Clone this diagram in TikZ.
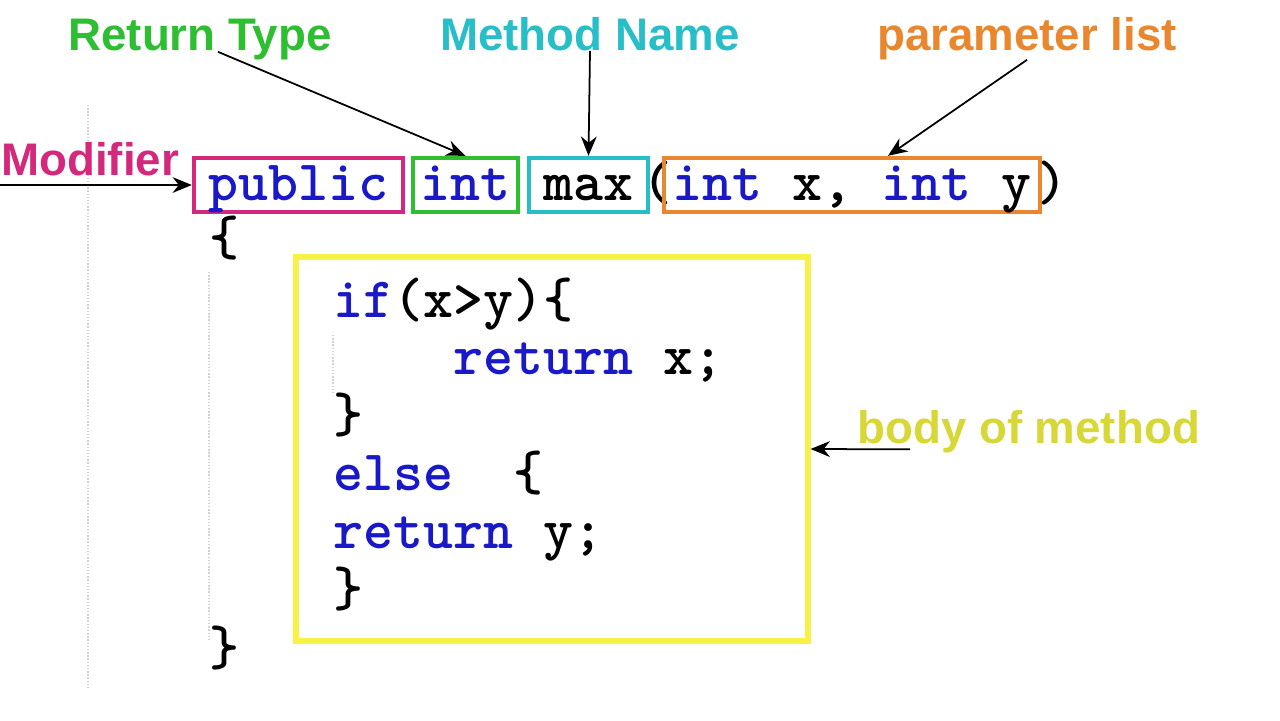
\documentclass[tikz,border=0pt]{standalone}
\usepackage{fontspec}
\usepackage{tikz, xcolor}
\usetikzlibrary{arrows.meta}
\tikzset{>={Stealth[length = 11pt, width = 9pt]}}
\newfontfamily\tagfont{Liberation Sans}
\definecolor{modPink}{RGB}{212,40,125}
\definecolor{retGreen}{RGB}{45,190,50}
\definecolor{nameCyan}{RGB}{40,190,200}
\definecolor{paramOrange}{RGB}{232,135,45}
\definecolor{bodyYellow}{RGB}{248,242,70}
\definecolor{bodyText}{RGB}{215,215,55}
\definecolor{keyBlue}{RGB}{25,25,200}
\tikzstyle{tag} = [font = \tagfont\bfseries\fontsize{26}{30}\selectfont, inner sep = 0pt, anchor = base]
\tikzstyle{code} = [font = \ttfamily\bfseries\fontsize{32.5}{38}\selectfont, inner sep = 0pt, text height = 20pt, text depth = 2pt]
\tikzstyle{codebox} = [code, rectangle, line width = 2.5pt, minimum height = 1.08cm, inner sep = 2pt, text centered]
\tikzstyle{codeline} = [code, anchor = base west]
\tikzstyle{guide} = [gray!35, densely dotted, line width = 0.8pt]

\begin{document}
\begin{tikzpicture}[x = 0.02cm, y = -0.02cm]
    \useasboundingbox (0,0) rectangle (1280,720);
    \clip (0,0) rectangle (1280,720);

    % faint indent guides
    \draw [guide] (88,105) -- (88,690);
    \draw [guide] (209,272) -- (209,640);
    \draw [guide] (333,335) -- (333,392);

    % method header
    \node (publicBox) [codebox, draw = modPink, minimum width = 4.18cm] at (298.5,185) {\textcolor{keyBlue}{public}};
    \node (intBox) [codebox, draw = retGreen, minimum width = 2.1cm] at (465.5,185) {\textcolor{keyBlue}{int}};
    \node (maxBox) [codebox, draw = nameCyan, minimum width = 2.38cm] at (588.5,185) {max};
    \node (openPar) [code] at (657,185) {(};
    \node (paramBox) [codebox, draw = paramOrange, minimum width = 7.52cm] at (852,185) {\textcolor{keyBlue}{int} x, \textcolor{keyBlue}{int} y};
    \node (closePar) [code] at (1052,185) {)};

    % method body
    \node (openBrace) [codeline] at (209,255) {\{};
    \node (bodyBox) [draw = bodyYellow, line width = 3pt, minimum width = 10.24cm, minimum height = 7.68cm] at (552,449) {};
    \node (ifLine) [codeline] at (333,317) {\textcolor{keyBlue}{if}(x>y)\{};
    \node (retX) [codeline] at (453,374) {\textcolor{keyBlue}{return} x;};
    \node (ifClose) [codeline] at (333,432) {\}};
    \node (elseLine) [codeline] at (333,490) {\textcolor{keyBlue}{else}\ \ \{};
    \node (retY) [codeline] at (333,548) {\textcolor{keyBlue}{return} y;};
    \node (elseClose) [codeline] at (333,606) {\}};
    \node (closeBrace) [codeline] at (209,665) {\}};

    % labels
    \node (retTypeLbl) [tag, text = retGreen] at (200,50) {Return Type};
    \node (methodLbl) [tag, text = nameCyan] at (590,50) {Method Name};
    \node (paramLbl) [tag, text = paramOrange] at (1027,50) {parameter list};
    \node (modLbl) [tag, text = modPink, anchor = base west] at (1,175) {Modifier};
    \node (bodyLbl) [tag, text = bodyText, anchor = base west] at (857,443) {body of method};
    \coordinate (modStart) at (-5,185);

    \draw [->, line width = 1] (modStart) -- (publicBox.west);
    \draw [->, line width = 1] ([xshift = 0.36cm, yshift = 0.16cm]retTypeLbl.south) -- (intBox.north);
    \draw [->, line width = 1] (methodLbl.south) -- (maxBox.north);
    \draw [->, line width = 1] (paramLbl.south) -- ([xshift = 0.72cm]paramBox.north);
    \draw [->, line width = 1] ([xshift = 1.06cm, yshift = 0.07cm]bodyLbl.south west) -- (bodyBox.east);
\end{tikzpicture}
\end{document}
